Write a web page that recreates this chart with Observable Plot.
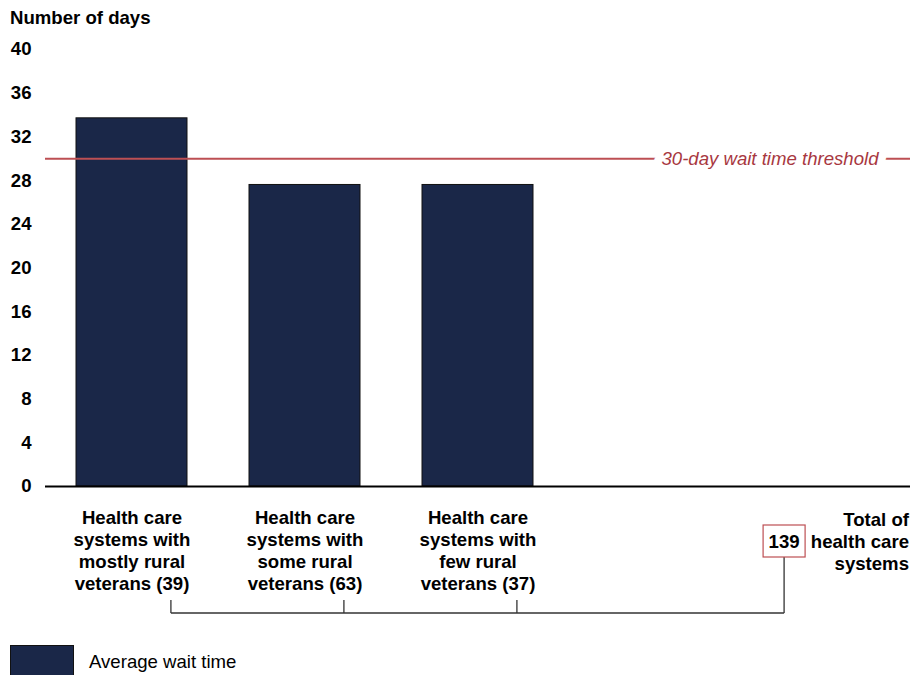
<!DOCTYPE html>
<html><head><meta charset="utf-8">
<script src="https://cdn.jsdelivr.net/npm/d3@7"></script>
<script src="https://cdn.jsdelivr.net/npm/@observablehq/plot@0.6"></script>
<style>
body{margin:0;background:#fff;font-family:"Liberation Sans",Arial,sans-serif;color:#000;overflow:hidden;}
#title{height:30px;padding-left:10px;font-weight:700;font-size:18.6px;line-height:36px;box-sizing:border-box;}
#chart svg{display:block;}
#legend{display:flex;align-items:center;margin-top:5px;padding-left:10px;height:34px;font-size:18.6px;}
#legend .sw{display:inline-block;width:64px;height:34px;background:#1a2748;border:1px solid #111;box-sizing:border-box;margin-right:15px;}
</style></head><body>
<div id="title">Number of days</div>
<div id="chart"></div>
<div id="legend"><span class="sw"></span><span id="legendLabel"></span></div>
<script>
// ---- data ----
const labels = [
  "Health care\nsystems with\nmostly rural\nveterans (39)",
  "Health care\nsystems with\nsome rural\nveterans (63)",
  "Health care\nsystems with\nfew rural\nveterans (37)"
];
const counts = [39, 63, 37];
const waitDays = [33.7, 27.6, 27.6];
const totalSystems = 139;
const totalLabel = "Total of\nhealth care\nsystems";
const threshold = 30;
const thresholdLabel = "30-day wait time threshold";
const yTicks = [0, 4, 8, 12, 16, 20, 24, 28, 32, 36, 40];
const seriesName = "Average wait time";

document.getElementById("legendLabel").textContent = seriesName;

const data = labels.map((label, i) => ({label, days: waitDays[i], count: counts[i]}));
const xDomain = [...labels, "gap", "total"];

const RED_LINE = "#bd4f53";
const RED_TEXT = "#a8383f";
const FS = 18.6;

function annotations(index, scales, values, dims) {
  const x = scales.x, y = scales.y;
  const bw = x.bandwidth ? x.bandwidth() : 111;
  const y0 = y(0);
  const yTop = y0 + 114, yLine = y0 + 127;
  const tickXs = labels.map(l => x(l) + bw * 0.855);
  const totalX = x("total") + bw * 0.145;
  const g = d3.create("svg:g");
  const stroke = "#333";
  tickXs.forEach(tx => {
    g.append("line").attr("x1", tx).attr("x2", tx).attr("y1", yTop).attr("y2", yLine)
      .attr("stroke", stroke).attr("stroke-width", 1.3);
  });
  g.append("line").attr("x1", tickXs[0]).attr("x2", totalX).attr("y1", yLine).attr("y2", yLine)
    .attr("stroke", stroke).attr("stroke-width", 1.3);
  const boxTop = y0 + 39, boxH = 32, boxW = 42;
  g.append("line").attr("x1", totalX).attr("x2", totalX).attr("y1", boxTop + boxH).attr("y2", yLine)
    .attr("stroke", stroke).attr("stroke-width", 1.3);
  g.append("rect").attr("x", totalX - boxW / 2).attr("y", boxTop).attr("width", boxW).attr("height", boxH)
    .attr("fill", "#fff").attr("stroke", RED_LINE).attr("stroke-width", 1.2);
  g.append("text").attr("x", totalX).attr("y", boxTop + boxH / 2).attr("dy", "0.35em")
    .attr("text-anchor", "middle").attr("font-weight", "bold").attr("font-size", FS)
    .text(totalSystems);
  const right = dims.width - dims.marginRight;
  const t = g.append("text").attr("text-anchor", "end").attr("font-weight", "bold").attr("font-size", FS);
  totalLabel.split("\n").forEach((line, i) => {
    t.append("tspan").attr("x", right - 1).attr("y", y0 + 33 + 6.5 + i * 22).text(line);
  });
  return g.node();
}

const chart = Plot.plot({
  width: 923,
  height: 610,
  marginTop: 19,
  marginBottom: 154,
  marginLeft: 45,
  marginRight: 13,
  style: {fontFamily: '"Liberation Sans", Arial, sans-serif', fontSize: FS + "px", color: "#000", background: "#fff", overflow: "visible"},
  x: {domain: xDomain, paddingInner: 0.36, paddingOuter: 0.17, axis: null},
  y: {domain: [0, 40], axis: null},
  marks: [
    Plot.axisY({ticks: yTicks, tickSize: 0, tickPadding: 14, fontWeight: "bold", fontSize: FS, label: null, tickFormat: d => String(d)}),
    Plot.barY(data, {x: "label", y: "days", fill: "#1a2748", stroke: "#111", strokeWidth: 1}),
    Plot.ruleY([threshold], {stroke: RED_LINE, strokeWidth: 2}),
    Plot.text([threshold], {y: d => d, text: () => thresholdLabel, frameAnchor: "right", textAnchor: "end", dx: -32,
      fill: RED_TEXT, fontStyle: "italic", fontSize: FS, stroke: "white", strokeWidth: 16, paintOrder: "stroke"}),
    Plot.ruleY([0], {stroke: "#000", strokeWidth: 2}),
    Plot.text(data, {x: "label", y: () => 0, text: "label", lineAnchor: "top", dy: 21.5, fontWeight: "bold", fontSize: FS, lineHeight: 22 / FS}),
    annotations
  ]
});
document.getElementById("chart").appendChild(chart);
</script>
</body></html>
